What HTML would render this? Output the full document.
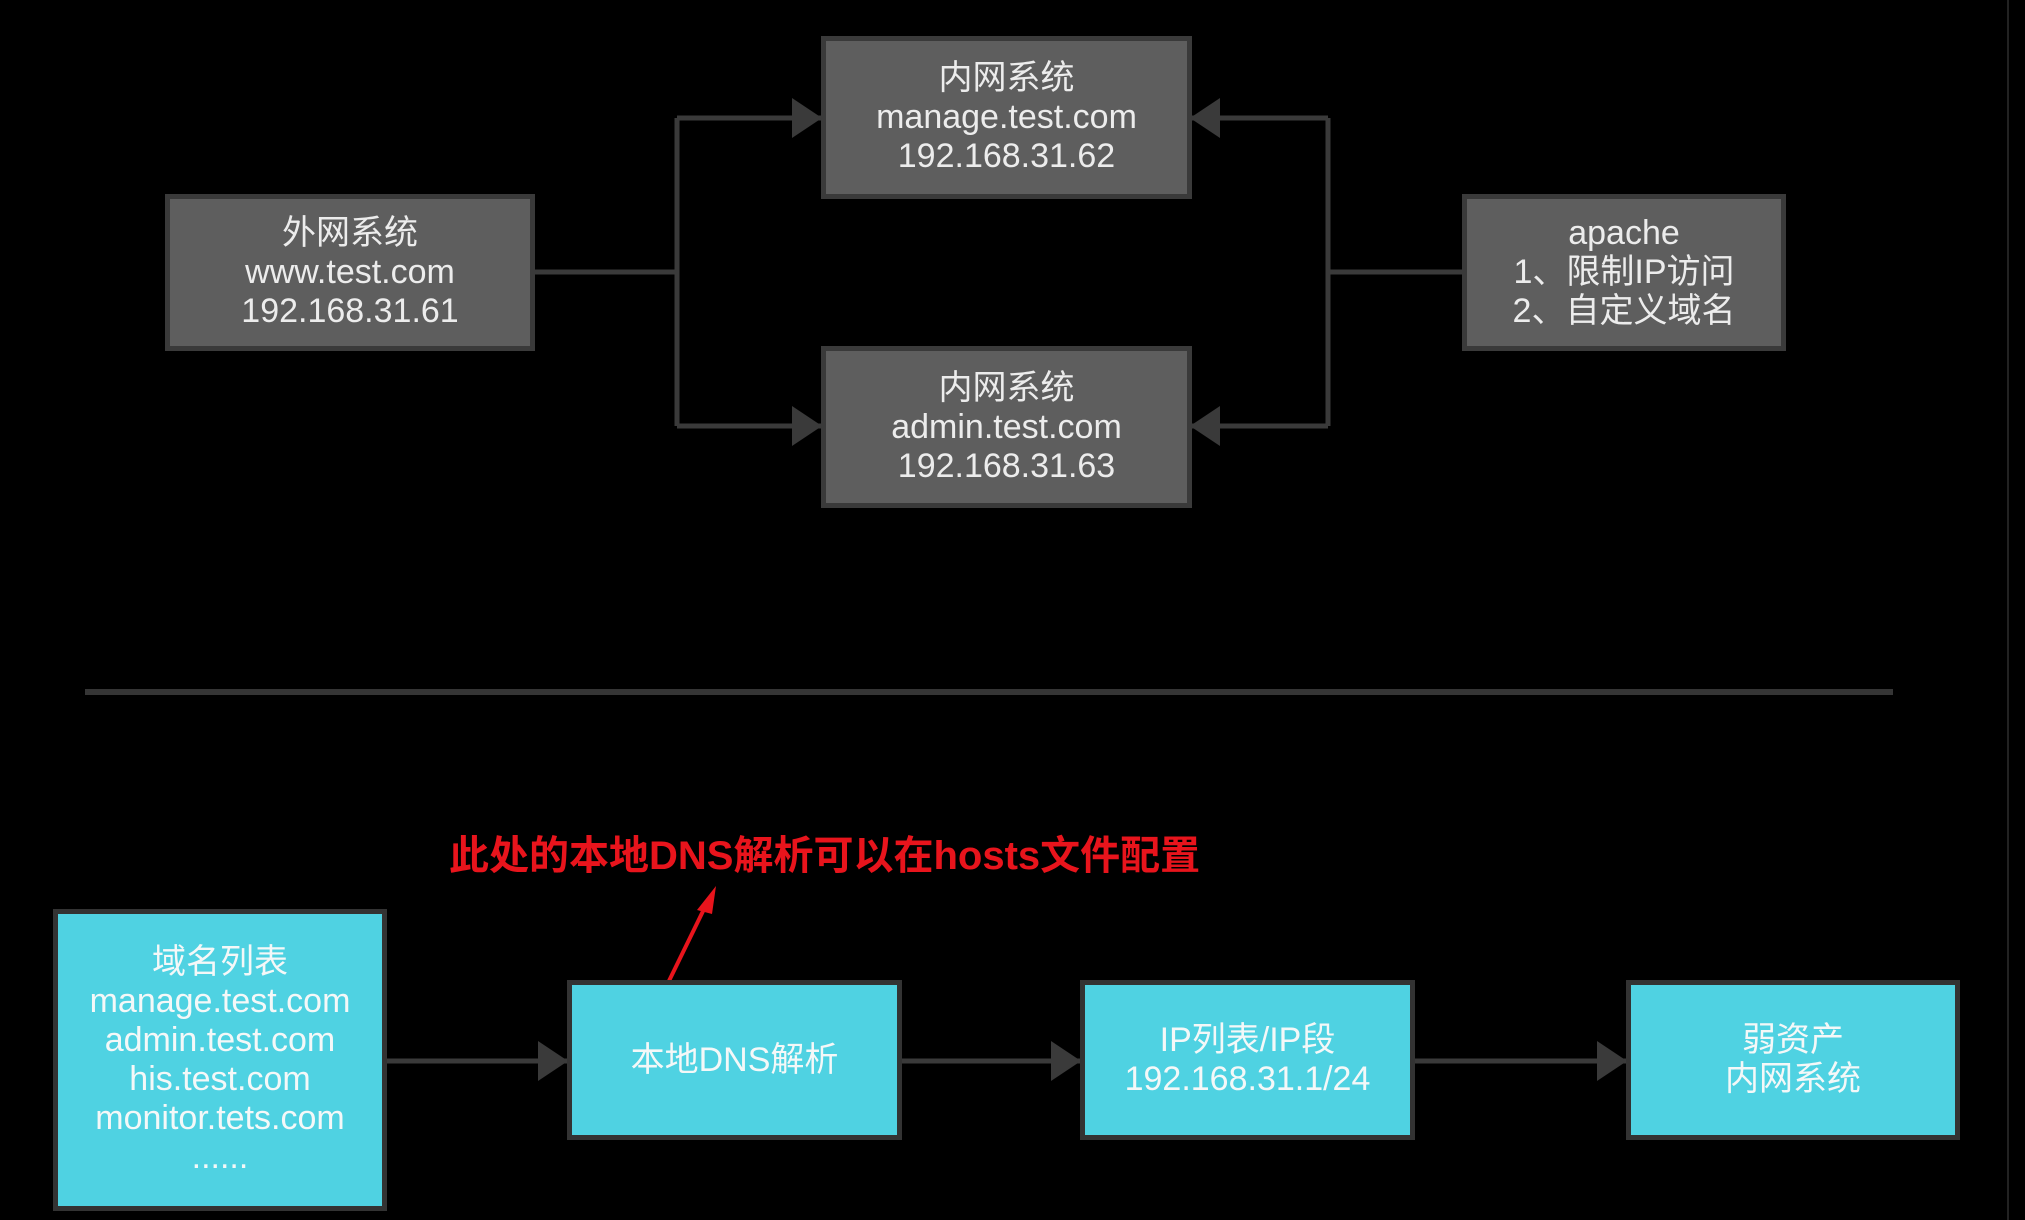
<!DOCTYPE html>
<html><head><meta charset="utf-8"><style>
html,body{margin:0;padding:0;background:#000;}
body{width:2025px;height:1220px;position:relative;overflow:hidden;font-family:"Liberation Sans","Noto Sans CJK SC",sans-serif;}
.b{position:absolute;box-sizing:border-box;display:flex;align-items:center;justify-content:center;text-align:center;font-size:34px;line-height:39px;color:#ececec;}
.g{background:#5e5e5e;border:5px solid #3a3a3a;}
.c{background:#4fd2e2;border:5px solid #333;color:#f4f8f8;}
</style></head><body>
<svg width="2025" height="1220" style="position:absolute;left:0;top:0">
<defs><marker id="a" markerWidth="6" markerHeight="8" refX="6" refY="4" orient="auto" markerUnits="strokeWidth"><path d="M0,0 L6,4 L0,8 Z" fill="#3a3a3a"/></marker></defs>
<g stroke="#3a3a3a" stroke-width="5" fill="none">
<polyline points="535,272 677,272"/>
<polyline points="677,118 677,426"/>
<polyline points="677,118 822,118" marker-end="url(#a)"/>
<polyline points="677,426 822,426" marker-end="url(#a)"/>
<polyline points="1462,272 1328,272"/>
<polyline points="1328,118 1328,426"/>
<polyline points="1328,118 1190,118" marker-end="url(#a)"/>
<polyline points="1328,426 1190,426" marker-end="url(#a)"/>
<line x1="387" y1="1061" x2="568" y2="1061" marker-end="url(#a)"/>
<line x1="901" y1="1061" x2="1081" y2="1061" marker-end="url(#a)"/>
<line x1="1414" y1="1061" x2="1627" y2="1061" marker-end="url(#a)"/>
</g>
<rect x="85" y="689" width="1808" height="6" fill="#353535"/>
<rect x="2007" y="0" width="2" height="1220" fill="#222"/>
<line x1="667" y1="985" x2="706" y2="905" stroke="#e8141c" stroke-width="4"/>
<polygon points="716,886 697,910 712,914" fill="#e8141c"/>
</svg>
<div class="b g" style="left:165px;top:194px;width:370px;height:157px">外网系统<br>www.test.com<br>192.168.31.61</div>
<div class="b g" style="left:821px;top:36px;width:371px;height:163px">内网系统<br>manage.test.com<br>192.168.31.62</div>
<div class="b g" style="left:821px;top:346px;width:371px;height:162px">内网系统<br>admin.test.com<br>192.168.31.63</div>
<div class="b g" style="left:1462px;top:194px;width:324px;height:157px">apache<br>1、限制IP访问<br>2、自定义域名</div>
<div style="position:absolute;left:449px;top:832px;font-size:40px;font-weight:bold;color:#e8141c;white-space:nowrap;line-height:48px">此处的本地DNS解析可以在hosts文件配置</div>
<div class="b c" style="left:53px;top:909px;width:334px;height:302px">域名列表<br>manage.test.com<br>admin.test.com<br>his.test.com<br>monitor.tets.com<br>......</div>
<div class="b c" style="left:567px;top:980px;width:335px;height:160px">本地DNS解析</div>
<div class="b c" style="left:1080px;top:980px;width:335px;height:160px">IP列表/IP段<br>192.168.31.1/24</div>
<div class="b c" style="left:1626px;top:980px;width:334px;height:160px">弱资产<br>内网系统</div>
</body></html>
